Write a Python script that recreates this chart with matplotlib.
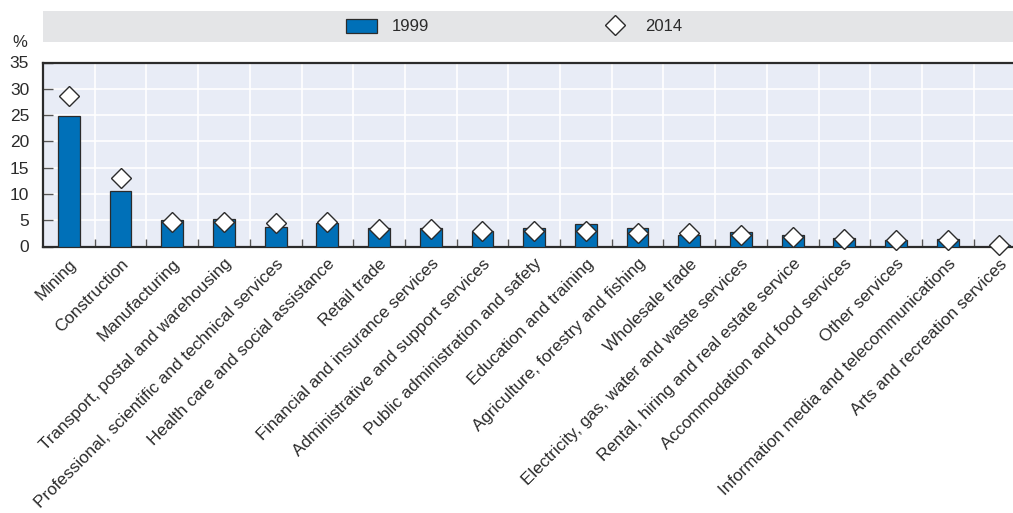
import matplotlib
matplotlib.use("Agg")
import matplotlib.pyplot as plt

# ---- data -------------------------------------------------------------------
INDUSTRIES = [
    "Mining", "Construction", "Manufacturing",
    "Transport, postal and warehousing",
    "Professional, scientific and technical services",
    "Health care and social assistance", "Retail trade",
    "Financial and insurance services",
    "Administrative and support services",
    "Public administration and safety", "Education and training",
    "Agriculture, forestry and fishing", "Wholesale trade",
    "Electricity, gas, water and waste services",
    "Rental, hiring and real estate service",
    "Accommodation and food services", "Other services",
    "Information media and telecommunications",
    "Arts and recreation services",
]
VAL_1999 = [24.8, 10.5, 5.1, 5.2, 3.8, 4.4, 3.5, 3.5, 3.0, 3.5, 4.3, 3.5,
            2.2, 2.7, 2.2, 1.6, 1.3, 1.4, 0.3]
VAL_2014 = [28.7, 13.1, 4.6, 4.6, 4.5, 4.6, 3.3, 3.3, 3.0, 3.0, 2.9, 2.5,
            2.5, 2.2, 1.9, 1.4, 1.3, 1.2, 0.3]
YTICKS = [0, 5, 10, 15, 20, 25, 30, 35]

BAR = "#0070b8"
BG = "#e8ecf6"
DARK = "#2b2b2b"

plt.rcParams["font.family"] = ["Liberation Sans", "DejaVu Sans"]

W, H = 1013, 513
fig = plt.figure(figsize=(W / 100, H / 100), dpi=100)

# main plot
L, R, T, B = 43, 1013, 62.5, 246.5
ax = fig.add_axes([L / W, 1 - B / H, (R - L) / W, (B - T) / H])
ax.set_facecolor(BG)
n = len(INDUSTRIES)
xs = list(range(n))
ax.set_xlim(-0.5, -0.5 + (R - L) / 51.7)
ax.set_ylim(0, 35)

bars = ax.bar(xs, VAL_1999, width=0.42, color=BAR, edgecolor=DARK,
              linewidth=0.9, zorder=3, label="1999")
pts, = ax.plot(xs, VAL_2014, linestyle="none", marker="D", markersize=10,
               markerfacecolor="white", markeredgecolor=DARK,
               markeredgewidth=1.0, zorder=4, clip_on=False, label="2014")

ax.set_yticks(YTICKS)
ax.set_yticklabels([str(v) for v in YTICKS], fontsize=12.5, color=DARK)
ax.set_xticks([i + 0.5 for i in range(n - 1)])
ax.set_xticklabels([])
ax.set_xticks(xs, minor=True)
ax.set_xticklabels(INDUSTRIES, minor=True, rotation=45, ha="right",
                   rotation_mode="anchor", fontsize=12.3, color=DARK)
ax.tick_params(axis="x", which="minor", length=0, pad=7)
ax.tick_params(axis="x", which="major", direction="in", length=6,
               width=1, color="#555555")
ax.tick_params(axis="y", direction="in", length=7, width=1,
               color="#555555", pad=10)
ax.grid(True, which="major", color="white", linewidth=1.2, zorder=0)
ax.set_axisbelow(True)
for side in ["top", "bottom", "left"]:
    ax.spines[side].set_color(DARK)
    ax.spines[side].set_linewidth(1.6)
ax.spines["right"].set_visible(False)

fig.text(12 / W, 1 - 43 / H, "%", fontsize=12, color=DARK,
         ha="left", va="center")

# legend band
lax = fig.add_axes([L / W, 1 - 42 / H, (R - L) / W, 31 / H])
lax.set_facecolor("#e4e5e7")
lax.set_xticks([])
lax.set_yticks([])
for s in lax.spines.values():
    s.set_visible(False)
lax.legend([bars, pts], ["1999", "2014"], loc="center",
           bbox_to_anchor=(0.4856, 0.5), ncol=2, frameon=False,
           fontsize=12, handlelength=1.85, handleheight=0.9,
           handletextpad=0.9, columnspacing=10.2, labelcolor=DARK)

fig.savefig("out.png", dpi=100)
